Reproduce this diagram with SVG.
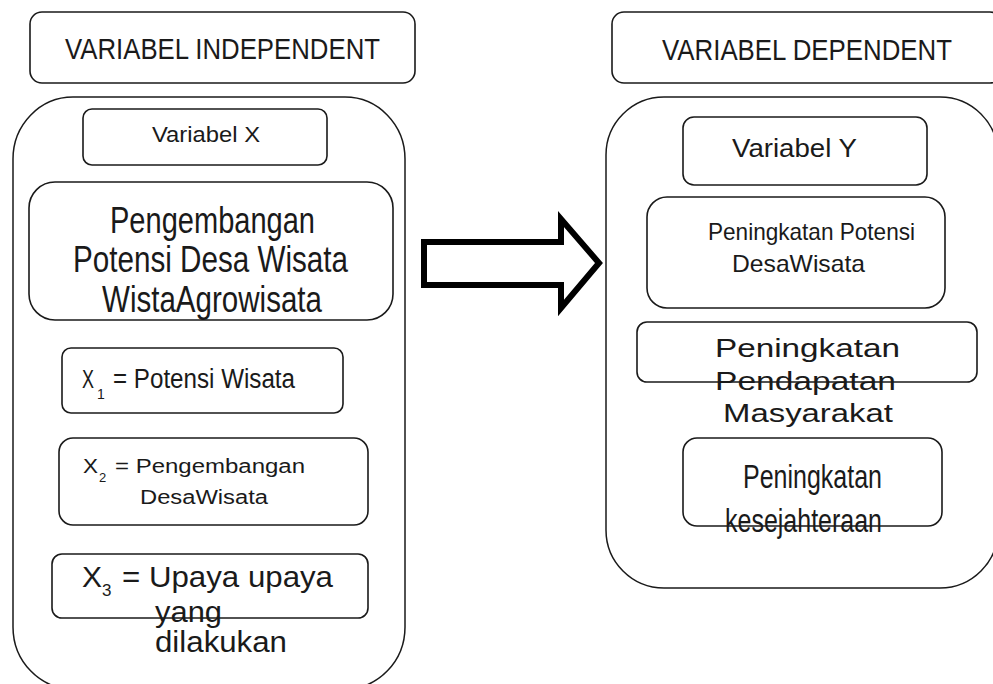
<svg xmlns="http://www.w3.org/2000/svg" width="993" height="684" viewBox="0 0 993 684">
<style>
  .box { fill: #fff; stroke: #1a1a1a; stroke-width: 1.6; }
  .cont { fill: #fff; stroke: #1a1a1a; stroke-width: 1.5; }
  text { font-family: "Liberation Sans", Arial, sans-serif; fill: #1a1a1a; }
  .arrow { fill: #fff; stroke: #000; stroke-width: 6; stroke-linejoin: miter; }
</style>
<rect width="993" height="684" fill="#fff"/>

<g id="containers">
  <rect id="left-container" class="cont" x="13" y="97" width="392" height="592" rx="60" ry="62"/>
  <rect id="right-container" class="cont" x="606" y="97" width="392" height="491" rx="58" ry="58"/>
</g>

<g id="title-independent">
  <rect class="box" x="30" y="12" width="385" height="71" rx="12"/>
  <text x="65" y="59" font-size="30" textLength="315" lengthAdjust="spacingAndGlyphs">VARIABEL INDEPENDENT</text>
</g>

<g id="title-dependent">
  <rect class="box" x="612" y="12" width="390" height="71" rx="12"/>
  <text x="662" y="60" font-size="29" textLength="290" lengthAdjust="spacingAndGlyphs">VARIABEL DEPENDENT</text>
</g>

<g id="variabel-x">
  <rect class="box" x="83" y="109" width="244" height="56" rx="9"/>
  <text x="152" y="142" font-size="22" textLength="108" lengthAdjust="spacingAndGlyphs">Variabel X</text>
</g>

<g id="pengembangan">
  <rect class="box" x="29" y="182" width="364" height="138" rx="26"/>
  <text x="110" y="233" font-size="36" textLength="205" lengthAdjust="spacingAndGlyphs">Pengembangan</text>
  <text x="73" y="272" font-size="36" textLength="275" lengthAdjust="spacingAndGlyphs">Potensi Desa Wisata</text>
  <text x="102" y="312" font-size="36" textLength="220" lengthAdjust="spacingAndGlyphs">WistaAgrowisata</text>
</g>

<g id="x1">
  <rect class="box" x="62" y="348" width="281" height="65" rx="9"/>
  <text x="82" y="388" font-size="25" textLength="12" lengthAdjust="spacingAndGlyphs">X</text>
  <text x="97" y="399" font-size="14">1</text>
  <text x="113" y="388" font-size="27" textLength="182" lengthAdjust="spacingAndGlyphs">= Potensi Wisata</text>
</g>

<g id="x2">
  <rect class="box" x="59" y="438" width="309" height="87" rx="14"/>
  <text x="83" y="473" font-size="20" textLength="15" lengthAdjust="spacingAndGlyphs">X</text>
  <text x="99" y="482" font-size="13">2</text>
  <text x="115" y="473" font-size="20" textLength="190" lengthAdjust="spacingAndGlyphs">= Pengembangan</text>
  <text x="140" y="504" font-size="20" textLength="128" lengthAdjust="spacingAndGlyphs">DesaWisata</text>
</g>

<g id="x3">
  <rect class="box" x="52" y="554" width="316" height="64" rx="10"/>
  <text x="82" y="587" font-size="30">X</text>
  <text x="102" y="596" font-size="17">3</text>
  <text x="122" y="587" font-size="30" textLength="211" lengthAdjust="spacingAndGlyphs">= Upaya upaya</text>
  <text x="155" y="622" font-size="30" textLength="67" lengthAdjust="spacingAndGlyphs">yang</text>
  <text x="155" y="652" font-size="30" textLength="132" lengthAdjust="spacingAndGlyphs">dilakukan</text>
</g>

<g id="variabel-y">
  <rect class="box" x="683" y="117" width="244" height="68" rx="11"/>
  <text x="732" y="157" font-size="25" textLength="125" lengthAdjust="spacingAndGlyphs">Variabel Y</text>
</g>

<g id="peningkatan-potensi">
  <rect class="box" x="647" y="197" width="298" height="111" rx="20"/>
  <text x="708" y="240" font-size="24" textLength="207" lengthAdjust="spacingAndGlyphs">Peningkatan Potensi</text>
  <text x="732" y="272" font-size="24" textLength="133" lengthAdjust="spacingAndGlyphs">DesaWisata</text>
</g>

<g id="peningkatan-pendapatan">
  <rect class="box" x="637" y="322" width="340" height="60" rx="10"/>
  <text x="715" y="357" font-size="25" textLength="185" lengthAdjust="spacingAndGlyphs">Peningkatan</text>
  <text x="715" y="390" font-size="25" textLength="181" lengthAdjust="spacingAndGlyphs">Pendapatan</text>
  <text x="723" y="422" font-size="25" textLength="170" lengthAdjust="spacingAndGlyphs">Masyarakat</text>
</g>

<g id="peningkatan-kesejahteraan">
  <rect class="box" x="683" y="438" width="259" height="88" rx="14"/>
  <text x="743" y="488" font-size="33" textLength="139" lengthAdjust="spacingAndGlyphs">Peningkatan</text>
  <text x="725" y="532" font-size="33" textLength="157" lengthAdjust="spacingAndGlyphs">kesejahteraan</text>
</g>

<g id="connectors">
  <polygon class="arrow" points="424,242 561,242 561,219 599,263 561,308 561,285 424,285"/>
</g>
</svg>
